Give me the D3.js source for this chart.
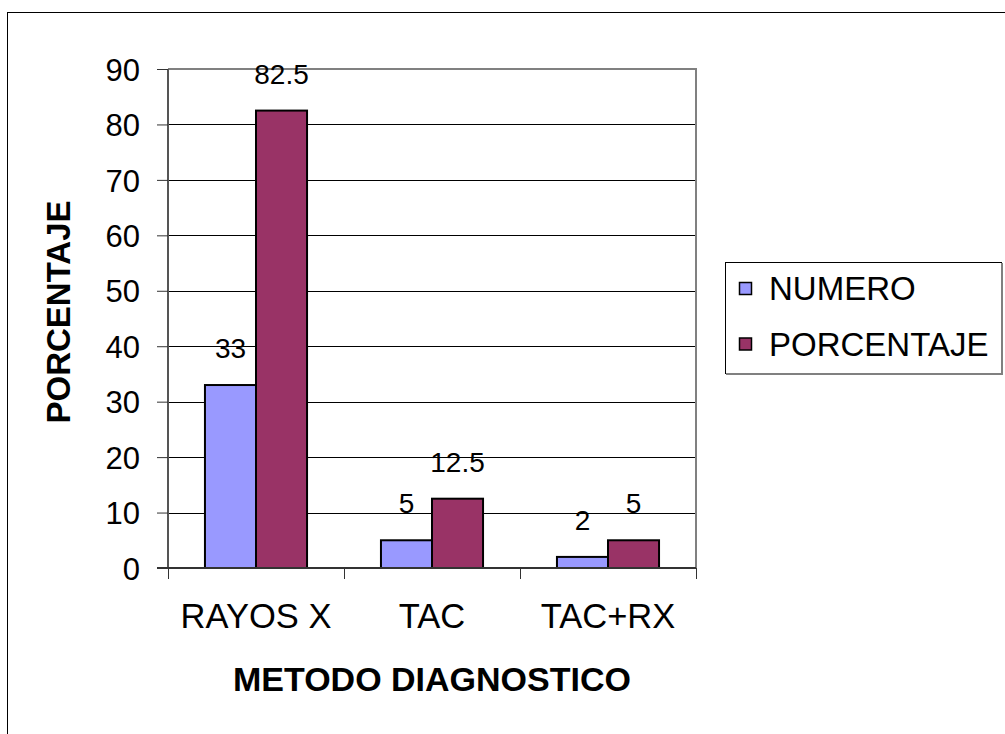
<!DOCTYPE html>
<html>
<head>
<meta charset="utf-8">
<script src="https://cdn.jsdelivr.net/npm/d3@7/dist/d3.min.js"></script>
<style>
  html, body { margin: 0; padding: 0; background: #fff; }
  svg { display: block; font-family: "Liberation Sans", Arial, sans-serif; }
</style>
</head>
<body>
<svg id="chart" width="1005" height="734"></svg>
<script>
const categories = ["RAYOS X", "TAC", "TAC+RX"];
const seriesNames = ["NUMERO", "PORCENTAJE"];
const numero = [33, 5, 2];
const porcentaje = [82.5, 12.5, 5];
const yTicks = [0, 10, 20, 30, 40, 50, 60, 70, 80, 90];
const colors = ["#9999FF", "#993366"];

const svg = d3.select("#chart");
const plot = { left: 168, right: 696, top: 69, bottom: 568 };

// outer chart border (extends beyond right/bottom edges)
svg.append("rect")
  .attr("x", 7.5).attr("y", 12.5)
  .attr("width", 1020).attr("height", 740)
  .attr("fill", "#fff").attr("stroke", "#000").attr("stroke-width", 1);

const x = d3.scaleBand().domain(categories).range([plot.left, plot.right]).padding(0);
const bw = x.bandwidth();
const x1 = d3.scaleBand().domain(seriesNames).range([bw * 0.21, bw * 0.79]).padding(0);
const y = d3.scaleLinear().domain([0, 90]).range([plot.bottom, plot.top]);

// gridlines
svg.append("g")
  .selectAll("line")
  .data(yTicks.filter(d => d > 0 && d < 90))
  .join("line")
  .attr("x1", plot.left).attr("x2", plot.right)
  .attr("y1", d => Math.round(y(d)) + 0.5).attr("y2", d => Math.round(y(d)) + 0.5)
  .attr("stroke", "#000").attr("stroke-width", 1);

// plot area top & right border (gray)
svg.append("path")
  .attr("d", `M${plot.left},${plot.top} H${plot.right} V${plot.bottom}`)
  .attr("fill", "none").attr("stroke", "#808080").attr("stroke-width", 2);

// bars
const data = categories.map((c, i) => ({ cat: c, vals: [numero[i], porcentaje[i]] }));
const groups = svg.append("g").selectAll("g")
  .data(data).join("g")
  .attr("transform", d => `translate(${x(d.cat)},0)`);

groups.selectAll("rect")
  .data(d => d.vals.map((v, j) => ({ v, s: seriesNames[j], j })))
  .join("rect")
  .attr("x", d => x1(d.s))
  .attr("width", x1.bandwidth())
  .attr("y", d => y(d.v))
  .attr("height", d => y(0) - y(d.v))
  .attr("fill", d => colors[d.j])
  .attr("stroke", "#000").attr("stroke-width", 2);

groups.selectAll("text.lbl")
  .data(d => d.vals.map((v, j) => ({ v, s: seriesNames[j], j })))
  .join("text")
  .attr("class", "lbl")
  .attr("x", d => x1(d.s) + x1.bandwidth() / 2)
  .attr("y", d => y(d.v) - 27)
  .attr("text-anchor", "middle")
  .attr("font-size", 28)
  .attr("fill", "#000")
  .text(d => d.v);

// y axis
const yAxis = d3.axisLeft(y).tickValues(yTicks).tickSize(11).tickPadding(17).tickFormat(d3.format("d"));
const gy = svg.append("g").attr("transform", `translate(${plot.left},0)`).call(yAxis);
gy.select(".domain").attr("stroke", "#555").attr("stroke-width", 2)
  .attr("d", `M0,${plot.top}V${plot.bottom}`);
gy.selectAll(".tick line").attr("stroke", "#333").attr("stroke-width", 1);
gy.selectAll(".tick text").attr("font-size", 31).attr("fill", "#000")
  .attr("font-family", "Liberation Sans, Arial, sans-serif").attr("dy", "0.36em");

// x axis
const xAxis = d3.axisBottom(x).tickSize(0).tickPadding(0).tickFormat(d => d);
const gx = svg.append("g").attr("transform", `translate(0,${plot.bottom})`).call(xAxis);
gx.select(".domain").attr("stroke", "#333").attr("stroke-width", 2)
  .attr("d", `M${plot.left - 11},0H${plot.right}`);
gx.selectAll(".tick line").remove();
gx.selectAll(".tick text").attr("font-size", 34.5).attr("fill", "#000")
  .attr("font-family", "Liberation Sans, Arial, sans-serif")
  .attr("dy", null).attr("y", 60);
// category boundary tick marks
const bounds = categories.map(c => x(c)).concat([x(categories[categories.length - 1]) + bw]);
gx.selectAll("line.btick").data(bounds).join("line")
  .attr("class", "btick")
  .attr("x1", d => Math.round(d) + 0.5).attr("x2", d => Math.round(d) + 0.5)
  .attr("y1", 0).attr("y2", 11)
  .attr("stroke", "#333").attr("stroke-width", 1);

// axis titles
svg.append("text")
  .attr("x", (plot.left + plot.right) / 2).attr("y", 691)
  .attr("text-anchor", "middle").attr("font-weight", "bold").attr("font-size", 34)
  .text("METODO DIAGNOSTICO");

svg.append("text")
  .attr("transform", `translate(70,312) rotate(-90)`)
  .attr("text-anchor", "middle").attr("font-weight", "bold").attr("font-size", 33)
  .text("PORCENTAJE");

// legend
const lg = svg.append("g");
lg.append("rect")
  .attr("x", 725.5).attr("y", 262.5).attr("width", 276).attr("height", 111)
  .attr("fill", "#fff").attr("stroke", "#000").attr("stroke-width", 1);
lg.append("path")
  .attr("d", "M726,374 H1002 V263")
  .attr("fill", "none").attr("stroke", "#808080").attr("stroke-width", 2);
const legendY = [288.5, 344];
seriesNames.forEach((s, i) => {
  lg.append("rect")
    .attr("x", 739.5).attr("y", legendY[i] - 6)
    .attr("width", 12).attr("height", 12)
    .attr("fill", colors[i]).attr("stroke", "#000").attr("stroke-width", 1.5);
  lg.append("text")
    .attr("x", 769).attr("y", legendY[i] + 11.5)
    .attr("font-size", 33).attr("fill", "#000")
    .text(s);
});
</script>
</body>
</html>
